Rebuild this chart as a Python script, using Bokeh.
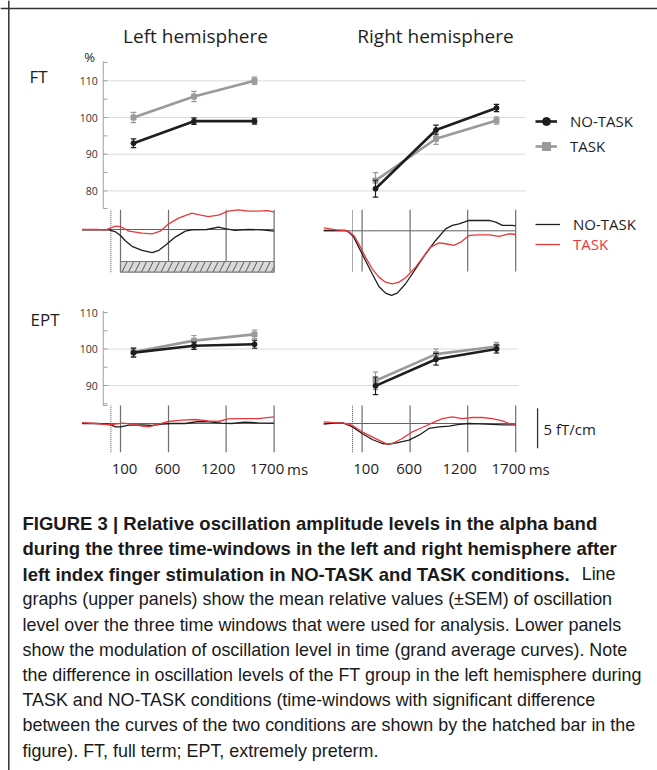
from bokeh.plotting import figure
from bokeh.models import Range1d, Label, Legend, LegendItem, Span
from bokeh.embed import file_html
from bokeh.resources import INLINE
from bokeh.core.properties import value

# ---------------- data ----------------
# line graphs: three time windows (left hemisphere at 1..3, right hemisphere at 5..7)
win_left = [1, 2, 3]
win_right = [5, 6, 7]

ft_left_notask = [93.0, 99.0, 99.0]
ft_left_notask_sem = [1.2, 0.9, 0.8]
ft_left_task = [100.0, 105.7, 110.0]
ft_left_task_sem = [1.4, 1.4, 1.0]
ft_right_notask = [80.6, 96.6, 102.6]
ft_right_notask_sem = [2.3, 1.3, 1.0]
ft_right_task = [82.8, 94.2, 99.2]
ft_right_task_sem = [2.2, 1.5, 1.0]

ept_left_notask = [99.0, 100.9, 101.3]
ept_left_notask_sem = [1.2, 1.0, 1.1]
ept_left_task = [99.2, 102.3, 104.0]
ept_left_task_sem = [1.2, 1.4, 1.2]
ept_right_notask = [89.9, 97.2, 100.0]
ept_right_notask_sem = [2.4, 1.6, 1.1]
ept_right_task = [91.3, 98.6, 100.7]
ept_right_task_sem = [2.4, 1.4, 1.1]

ft_ticks = [80, 90, 100, 110]
ept_ticks = [90, 100, 110]

# grand average curves (time in ms, amplitude in fT/cm)
time_ticks = [100, 600, 1200, 1700]
time_labels = ["100", "600", "1200", "1700"]

ft_l_black_t = [-300, -200, -100, -20, 50, 100, 150, 220, 325, 430, 500, 565, 670, 775, 845, 1000, 1120, 1190, 1290, 1430, 1570, 1700]
ft_l_black_v = [-0.05, -0.05, -0.05, -0.05, -0.3, -0.75, -1.4, -2.1, -2.6, -2.9, -2.6, -2.0, -0.95, -0.2, -0.05, 0.0, 0.3, 0.12, -0.1, 0.0, -0.05, -0.2]
ft_l_red_t = [-300, -150, -55, 0, 48, 100, 187, 325, 428, 515, 601, 705, 843, 912, 1015, 1119, 1222, 1326, 1430, 1533, 1637, 1700]
ft_l_red_v = [0.0, 0.0, -0.04, 0.21, 0.42, 0.37, -0.21, -0.46, -0.54, -0.21, 0.71, 1.42, 2.04, 1.87, 1.62, 1.79, 2.29, 2.46, 2.29, 2.29, 2.37, 2.17]

ft_r_black_t = [-300, -170, -73, -39, 13, 65, 135, 205, 275, 344, 407, 466, 553, 657, 762, 866, 970, 1040, 1110, 1214, 1318, 1423, 1492, 1562, 1666, 1700]
ft_r_black_v = [0.04, 0.04, 0.04, -0.17, -0.79, -2.04, -3.71, -5.37, -6.96, -7.79, -8.08, -7.79, -6.62, -4.75, -2.87, -1.21, 0.25, 0.67, 0.87, 1.29, 1.29, 1.29, 1.08, 0.67, 0.67, 0.62]
ft_r_red_t = [-300, -170, -73, -39, 13, 65, 135, 205, 275, 344, 414, 483, 553, 657, 762, 814, 900, 970, 1057, 1127, 1214, 1318, 1423, 1527, 1631, 1700]
ft_r_red_v = [0.37, 0.12, 0.04, -0.08, -0.58, -1.62, -3.29, -4.75, -5.79, -6.42, -6.62, -6.42, -5.87, -4.54, -2.87, -2.04, -1.5, -1.62, -1.83, -1.42, -0.58, -0.5, -0.5, -0.71, -0.37, -0.46]

ept_l_black_t = [-300, -150, -20, 48, 100, 187, 325, 428, 532, 636, 774, 912, 1015, 1153, 1257, 1395, 1533, 1700]
ept_l_black_v = [0.0, 0.0, -0.08, -0.42, -0.42, -0.21, -0.17, -0.25, -0.08, 0.0, 0.0, 0.25, 0.21, 0.04, 0.0, 0.17, 0.08, 0.04]
ept_l_red_t = [-300, -160, -20, 48, 118, 221, 325, 394, 497, 601, 739, 877, 1015, 1119, 1222, 1360, 1533, 1700]
ept_l_red_v = [0.12, 0.0, -0.17, -0.08, 0.04, -0.08, -0.33, -0.42, -0.08, 0.25, 0.42, 0.5, 0.33, 0.25, 0.58, 0.62, 0.62, 0.83]

ept_r_black_t = [-300, -170, -100, 0, 100, 205, 310, 380, 484, 588, 693, 797, 901, 1005, 1110, 1214, 1318, 1457, 1562, 1700]
ept_r_black_v = [-0.08, 0.08, 0.08, -0.42, -1.25, -2.0, -2.5, -2.58, -2.37, -2.08, -1.46, -0.62, -0.42, -0.33, -0.12, 0.0, -0.04, -0.12, -0.17, -0.17]
ept_r_red_t = [-300, -170, -100, 0, 100, 205, 310, 362, 414, 519, 623, 727, 831, 936, 1040, 1144, 1249, 1353, 1457, 1562, 1631, 1700]
ept_r_red_v = [0.21, 0.08, 0.08, -0.25, -1.04, -1.67, -2.29, -2.58, -2.5, -1.87, -1.04, -0.5, 0.08, 0.62, 0.83, 0.62, 0.75, 0.75, 0.62, 0.33, 0.0, -0.08]

significant_window = [100, 1700]
scale_bar = 5  # fT/cm

caption_lines = [
    ("FIGURE 3 | Relative oscillation amplitude levels in the alpha band", "bold"),
    ("during the three time-windows in the left and right hemisphere after", "bold"),
    ("left index finger stimulation in NO-TASK and TASK conditions.", "bold"),
    ("graphs (upper panels) show the mean relative values (\u00b1SEM) of oscillation", "normal"),
    ("level over the three time windows that were used for analysis. Lower panels", "normal"),
    ("show the modulation of oscillation level in time (grand average curves). Note", "normal"),
    ("the difference in oscillation levels of the FT group in the left hemisphere during", "normal"),
    ("TASK and NO-TASK conditions (time-windows with significant difference", "normal"),
    ("between the curves of the two conditions are shown by the hatched bar in the", "normal"),
    ("figure). FT, full term; EPT, extremely preterm.", "normal"),
]

# ---------------- styling ----------------
W, H = 657, 770
PX0, PY0 = 0, 0
FONT = "Open Sans"
CAP_FONT = "Liberation Sans"
CAP_SIZE = {"normal": "17.9px", "bold": "18.5px"}
BLACK = "#1e1e1e"
GRAY = "#9a9a9a"
RED = "#e8383d"


def xr(p0, v0, p1, v1):
    k = (v1 - v0) / (p1 - p0)
    return Range1d(start=v0 + (PX0 - p0) * k, end=v0 + (PX0 + W - p0) * k)


def yr(p0, v0, p1, v1):
    k = (v1 - v0) / (p1 - p0)
    return Range1d(start=v0 + (PY0 + H - p0) * k, end=v0 + (PY0 - p0) * k)


p = figure(width=W, height=H, x_range=Range1d(PX0, PX0 + W), y_range=Range1d(PY0 + H, PY0),
           output_backend="svg", toolbar_location=None, min_border=0,
           x_axis_location=None, y_axis_location=None)
p.grid.visible = False
p.outline_line_color = None
p.background_fill_color = "white"
p.border_fill_color = "white"

p.extra_x_ranges = {
    "idx": xr(133, 1, 254, 3),
    "tl": xr(110.4, 0, 273.6, 1700),
    "tr": xr(352, 0, 515.2, 1700),
}
p.extra_y_ranges = {
    "ftp": yr(117, 100, 80.3, 110),
    "eptp": yr(348.5, 100, 312, 110),
    "ftl": yr(229, 0, 189, 5),
    "ftr": yr(230.3, 0, 190.3, 5),
    "eptc": yr(423, 0, 383, 5),
}

# frame border (top + left)
p.add_layout(Span(location=8, dimension="width", line_color="#333333", line_width=1.5))
p.add_layout(Span(location=8.3, dimension="height", line_color="#333333", line_width=1.5))


def txt(x, y, s, size, align="left", style="normal", color=BLACK, font=FONT, baseline="middle"):
    p.add_layout(Label(x=x, y=y, text=s, text_font=font, text_font_size=size,
                       text_align=align, text_baseline=baseline, text_color=color,
                       text_font_style=style))


# ---- line-graph axes ----
def lg_axis(yname, ticks, lo, hi, grid_end):
    kw = dict(x_range_name="idx", y_range_name=yname)
    p.segment(x0=[0.5] * len(ticks), x1=[grid_end] * len(ticks), y0=ticks, y1=ticks,
              line_color="#dcdcdc", line_width=1, **kw)
    p.segment(x0=[0.5], x1=[0.5], y0=[lo], y1=[hi], line_color="#a0a0a0", line_width=1, **kw)
    minor = [v for v in range(int(lo) + 1, int(hi) + 1) if v % 5 == 0] + [lo]
    p.segment(x0=[0.5] * len(minor), x1=[0.57] * len(minor), y0=minor, y1=minor,
              line_color="#a0a0a0", line_width=1, **kw)
    p.text(x=[0.41] * len(ticks), y=ticks, text=[str(t) for t in ticks], text_align="right",
           text_baseline="middle", text_font=value(FONT), text_font_size="10.5px",
           text_color="#333333", **kw)


def lg_series(xs, ys, sem, color, marker, yname):
    kw = dict(x_range_name="idx", y_range_name=yname)
    lo = [y - s for y, s in zip(ys, sem)]
    hi = [y + s for y, s in zip(ys, sem)]
    p.segment(x0=xs, x1=xs, y0=lo, y1=hi, line_color=color, line_width=1.2, **kw)
    p.segment(x0=[x - 0.045 for x in xs], x1=[x + 0.045 for x in xs], y0=lo, y1=lo,
              line_color=color, line_width=1.2, **kw)
    p.segment(x0=[x - 0.045 for x in xs], x1=[x + 0.045 for x in xs], y0=hi, y1=hi,
              line_color=color, line_width=1.2, **kw)
    ln = p.line(xs, ys, line_color=color, line_width=2.6, **kw)
    sc = p.scatter(xs, ys, marker=marker, size=5, fill_color=color, line_color=color, **kw)
    return ln, sc


lg_axis("ftp", ft_ticks, 75.2, 115.3, 7.48)
lg_axis("eptp", [90, 100], 84.5, 110.5, 7.36)
p.text(x=[0.41], y=[110], text=["110"], text_align="right", text_baseline="middle",
       text_font=value(FONT), text_font_size="10.5px", text_color="#333333",
       x_range_name="idx", y_range_name="eptp")

g1 = lg_series(win_left, ft_left_task, ft_left_task_sem, GRAY, "square", "ftp")
b1 = lg_series(win_left, ft_left_notask, ft_left_notask_sem, BLACK, "circle", "ftp")
g2 = lg_series(win_right, ft_right_task, ft_right_task_sem, GRAY, "square", "ftp")
b2 = lg_series(win_right, ft_right_notask, ft_right_notask_sem, BLACK, "circle", "ftp")
lg_series(win_left, ept_left_task, ept_left_task_sem, GRAY, "square", "eptp")
lg_series(win_left, ept_left_notask, ept_left_notask_sem, BLACK, "circle", "eptp")
lg_series(win_right, ept_right_task, ept_right_task_sem, GRAY, "square", "eptp")
lg_series(win_right, ept_right_notask, ept_right_notask_sem, BLACK, "circle", "eptp")


# ---- curve panels ----
def curve_panel(xname, yname, tb, vb, tr, vr, top, bot, hatch=False):
    kw = dict(x_range_name=xname, y_range_name=yname)
    p.segment(x0=[-300], x1=[1700], y0=[0], y1=[0], line_color="#606060", line_width=1, **kw)
    n = len(time_ticks)
    p.segment(x0=time_ticks, x1=time_ticks, y0=[bot] * n, y1=[top] * n,
              line_color="#6e6e6e", line_width=1.2, **kw)
    p.segment(x0=[0], x1=[0], y0=[bot], y1=[top], line_color="#555555", line_width=1,
              line_dash="1 1", **kw)
    if hatch:
        p.quad(left=[significant_window[0]], right=[significant_window[1]], top=[-4.0], bottom=[-5.34],
               fill_color="#d9d9d9", line_color="#7a7a7a", line_width=1.2,
               hatch_pattern="/", hatch_color="#4a4a4a", hatch_scale=13, hatch_weight=0.9, **kw)
    lb = p.line(tb, vb, line_color=BLACK, line_width=1.3, **kw)
    lr = p.line(tr, vr, line_color=RED, line_width=1.3, **kw)
    return lb, lr


curve_panel("tl", "ftl", ft_l_black_t, ft_l_black_v, ft_l_red_t, ft_l_red_v, 2.46, -5.34, hatch=True)
cb, cr = curve_panel("tr", "ftr", ft_r_black_t, ft_r_black_v, ft_r_red_t, ft_r_red_v, 2.62, -5.09)
curve_panel("tl", "eptc", ept_l_black_t, ept_l_black_v, ept_l_red_t, ept_l_red_v, 2.25, -3.59)
curve_panel("tr", "eptc", ept_r_black_t, ept_r_black_v, ept_r_red_t, ept_r_red_v, 2.25, -3.59)

# scale bar
p.segment(x0=[1928], x1=[1928], y0=[-3.1], y1=[-3.1 + scale_bar], line_color="#333333",
          line_width=1.3, x_range_name="tr", y_range_name="eptc")
txt(543, 428, "%d fT/cm" % scale_bar, "15px")

# time labels
lab_off = [4, -1, -8, -7]
for xname in ["tl", "tr"]:
    for t, s, o in zip(time_ticks, time_labels, lab_off):
        p.text(x=[t], y=[468], text=[s], x_offset=o, text_align="center", text_baseline="middle",
               text_font=value(FONT), text_font_size="15px", text_color=BLACK, x_range_name=xname)
    p.text(x=[time_ticks[-1]], y=[468], text=["ms"], x_offset=13, text_align="left",
           text_baseline="middle", text_font=value(FONT), text_font_size="15px", text_color=BLACK,
           x_range_name=xname)

# titles and labels
txt(195, 35, "Left hemisphere", "19px", align="center")
txt(435, 35, "Right hemisphere", "19px", align="center")
txt(89, 56, "%", "13px", align="center")
txt(29, 76, "FT", "17px")
txt(30, 319, "EPT", "17px")

# legends
leg_kw = dict(border_line_color=None, background_fill_alpha=0, padding=0, margin=0, spacing=5,
              glyph_height=20, label_height=20, label_standoff=13,
              label_text_font=FONT, label_text_font_size="15px")
p.add_layout(Legend(items=[LegendItem(label="NO-TASK", renderers=list(b2)),
                           LegendItem(label="TASK", renderers=list(g2))],
                    location=(535, 614), glyph_width=22, label_text_color=BLACK, **leg_kw))
p.add_layout(Legend(items=[LegendItem(label="NO-TASK", renderers=[cb])],
                    location=(535, 536), glyph_width=25, label_text_color=BLACK, **leg_kw))
p.add_layout(Legend(items=[LegendItem(label="TASK", renderers=[cr])],
                    location=(535, 516), glyph_width=25, label_text_color=RED, **leg_kw))

# caption
for i, (line, style) in enumerate(caption_lines):
    txt(22, 523.2 + 25.2 * i, line, CAP_SIZE[style], style=style, font=CAP_FONT, color="#1a1a1a")
txt(615, 523.2 + 25.2 * 2, "Line", CAP_SIZE["normal"], align="right", font=CAP_FONT, color="#1a1a1a")

open("out.html", "w").write(file_html(p, INLINE))
